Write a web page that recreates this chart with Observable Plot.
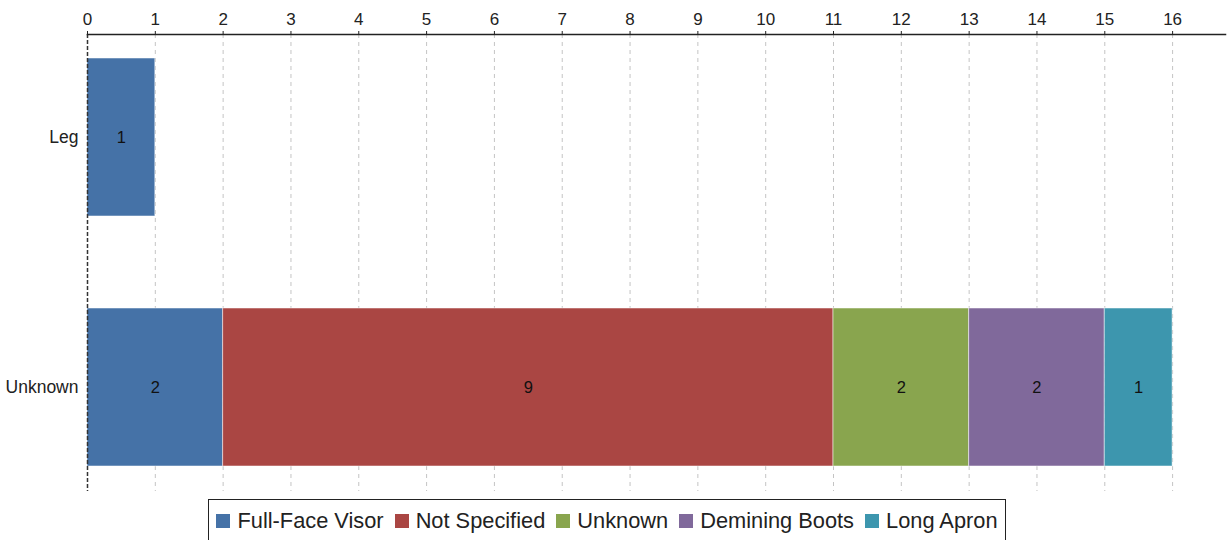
<!DOCTYPE html>
<html>
<head>
<meta charset="utf-8">
<script src="https://cdn.jsdelivr.net/npm/d3@7"></script>
<script src="https://cdn.jsdelivr.net/npm/@observablehq/plot@0.6"></script>
<style>
  html, body { margin: 0; padding: 0; background: #fff; }
  body { width: 1228px; height: 540px; overflow: hidden; position: relative; font-family: "Liberation Sans", Arial, sans-serif; }
  #chart svg { display: block; }
  #legend {
    position: absolute; left: 208px; top: 499px; width: 798px; height: 44px;
    border: 1.5px solid #222; box-sizing: border-box; background: #fff;
    display: flex; align-items: center; justify-content: center; gap: 11px;
    font-size: 21.8px; color: #222; padding-bottom: 1px;
  }
  .item { display: flex; align-items: center; gap: 7px; white-space: nowrap; }
  .sw { width: 14px; height: 14px; display: inline-block; }
</style>
</head>
<body>
<div id="chart"></div>
<div id="legend"></div>
<script>
const categories = ["Leg", "Unknown"];
const series = ["Full-Face Visor", "Not Specified", "Unknown", "Demining Boots", "Long Apron"];
const colors = ["#4572a7", "#aa4643", "#89a54e", "#80699b", "#3d96ae"];
const legValues = [1, 0, 0, 0, 0];
const unknownValues = [2, 9, 2, 2, 1];
const xTicks = [0, 1, 2, 3, 4, 5, 6, 7, 8, 9, 10, 11, 12, 13, 14, 15, 16];

const rows = [];
[legValues, unknownValues].forEach((vals, i) => {
  vals.forEach((v, j) => { if (v > 0) rows.push({cat: categories[i], series: series[j], value: v}); });
});

const chart = Plot.plot({
  width: 1228,
  height: 495,
  marginTop: 34,
  marginLeft: 87,
  marginRight: 3,
  marginBottom: 4,
  style: {fontFamily: "Liberation Sans, Arial, sans-serif", color: "#222", background: "#fff"},
  x: {domain: [0, 16.78], axis: null},
  y: {domain: categories, paddingInner: 0.367, paddingOuter: 0.096, axis: null},
  color: {domain: series, range: colors},
  marks: [
    Plot.gridX(xTicks.slice(1), {stroke: "#c4c4c4", strokeOpacity: 1, strokeDasharray: "4,4"}),
    Plot.barX(rows, Plot.stackX({x: "value", y: "cat", fill: "series", stroke: "#ffffff", strokeOpacity: 0.5, strokeWidth: 1})),
    Plot.text(rows, Plot.stackX({x: "value", y: "cat", text: "value", fill: "#111", fontSize: 16.5})),
    Plot.ruleX([0], {stroke: "#333", strokeWidth: 1.5, strokeDasharray: "4,2"}),
    Plot.axisY({tickSize: 0, tickPadding: 9, fontSize: 17.5, anchor: "left", label: null}),
    Plot.axisX({anchor: "top", ticks: xTicks, tickSize: 4, tickPadding: 6, fontSize: 17, label: null, tickFormat: d => String(d)}),
    Plot.frame({anchor: "top", stroke: "#222", strokeWidth: 1.5})
  ]
});
document.getElementById("chart").appendChild(chart);

const legend = document.getElementById("legend");
series.forEach((s, i) => {
  const it = document.createElement("div");
  it.className = "item";
  const sw = document.createElement("span");
  sw.className = "sw";
  sw.style.background = colors[i];
  const t = document.createElement("span");
  t.textContent = s;
  it.appendChild(sw); it.appendChild(t);
  legend.appendChild(it);
});
</script>
</body>
</html>
